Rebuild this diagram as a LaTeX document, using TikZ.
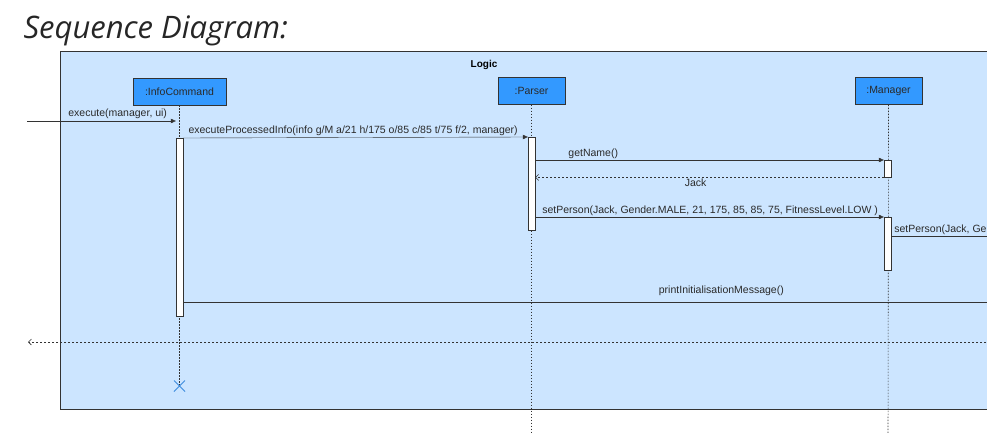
\documentclass[tikz,border=0pt]{standalone}
\usepackage{fontspec}
\setmainfont{Liberation Sans}
\newfontfamily\titlefont{Open Sans}
\usepackage{tikz}
\usetikzlibrary{arrows.meta}
\definecolor{frameblue}{HTML}{CCE5FF}
\definecolor{boxblue}{HTML}{3399FF}
\definecolor{linegray}{HTML}{333333}
\definecolor{txtgray}{HTML}{2A2A2A}
\definecolor{killblue}{HTML}{3C8BDE}

\begin{document}
\begin{tikzpicture}[x=1pt,y=-1pt,
  participant/.style={draw=linegray, fill=boxblue, minimum height=27pt, inner sep=0pt,
    font=\fontsize{10.5}{12}\selectfont, text=txtgray},
  activation/.style={draw=linegray, fill=white, minimum width=7pt, inner sep=0pt, anchor=north},
  lifeline/.style={draw=linegray, line width=0.6pt, dash pattern=on 1.5pt off 1.5pt},
  msg/.style={draw=linegray, -{Triangle[length=5pt,width=4.5pt]}},
  retmsg/.style={draw=linegray, line width=0.6pt, dash pattern=on 2pt off 2pt, -{Straight Barb[length=3pt,width=6pt]}},
  lbl/.style={font=\fontsize{10.5}{12}\selectfont, text=txtgray, inner sep=1pt}]
\useasboundingbox (0,0) rectangle (987,433);
\clip (0,0) rectangle (987,433);
%%% frame of the Logic component
\draw[draw=linegray, fill=frameblue] (60,51) rectangle (1010,409);
\node[anchor=base west, font=\titlefont\itshape\fontsize{31}{37}\selectfont, text=black!85]
  (title) at (20,39) {Sequence Diagram:};
\node[font=\bfseries\fontsize{10}{12}\selectfont, text=black] (logic) at (484,65) {Logic};
%
\node[participant, minimum width=93pt] (info) at (179.5,91.5) {:InfoCommand};
\node[participant, minimum width=67pt] (parser) at (531.5,91) {:Parser};
\node[participant, minimum width=67pt] (manager) at (888.5,91) {:Manager};
\coordinate (infoEnd) at (179.5,386);
\coordinate (parserEnd) at (531.5,440);
\coordinate (managerEnd) at (888,440);
\draw[lifeline] (info.south) -- (infoEnd);
\draw[lifeline] (parser.south) -- (parserEnd);
\draw[lifeline] (manager.south) -- (managerEnd);
\draw[killblue, thick] (infoEnd) +(-5.5,-5.5) -- +(5.5,5.5) +(-5.5,5.5) -- +(5.5,-5.5);
%%% activation bars
\node[activation, minimum height=178pt] (infoAct) at (179.5,138) {};
\node[activation, minimum height=93pt] (parserAct) at (531.5,137) {};
\node[activation, minimum height=17pt] (managerAct1) at (887.5,160) {};
\node[activation, minimum height=53pt] (managerAct2) at (887.5,217) {};
%%% messages
\coordinate (execIn) at (27,121);
\draw[msg] (execIn) -- (execIn -| infoAct.west)
  node[lbl, pos=0.27, above right, yshift=1pt] {execute(manager, ui)};
\draw[msg] (infoAct.north east) -- (parserAct.north west)
  node[lbl, pos=0.012, above right, yshift=1.5pt]
  {executeProcessedInfo(info g/M a/21 h/175 o/85 c/85 t/75 f/2, manager)};
\draw[msg] (parserAct.east |- managerAct1.north) -- (managerAct1.north west)
  node[lbl, pos=0.092, above right] {getName()};
\draw[retmsg] (managerAct1.south west) -- (parserAct.east |- managerAct1.south)
  node[lbl, pos=0.54, below] {Jack};
\draw[msg] (parserAct.east |- managerAct2.north) -- (managerAct2.north west)
  node[lbl, pos=0.017, above right]
  {setPerson(Jack, Gender.MALE, 21, 175, 85, 85, 75, FitnessLevel.LOW )};
\coordinate (setOut) at (990,236);
\draw[draw=linegray] (managerAct2.east |- setOut) -- (setOut)
  node[lbl, pos=0.02, above right] {setPerson(Jack, Ge};
\coordinate (printOut) at (990,302);
\draw[draw=linegray] (infoAct.east |- printOut) -- (printOut)
  node[lbl, pos=0.667, above, yshift=5pt] {printInitialisationMessage()};
\coordinate (retIn) at (990,342);
\coordinate (retOut) at (28,342);
\draw[retmsg] (retIn) -- (retOut);
\end{tikzpicture}
\end{document}
